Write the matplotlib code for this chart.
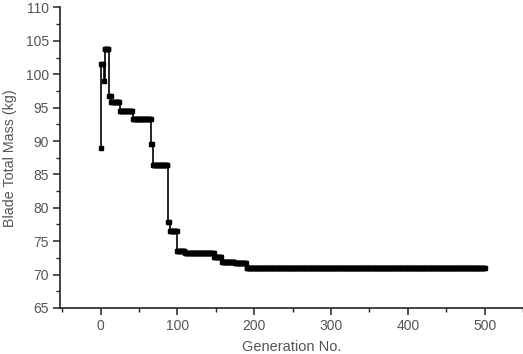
import numpy as np
import matplotlib
matplotlib.use("Agg")
import matplotlib.pyplot as plt

# Change points of the best-so-far curve (generation, mass kg)
change_gens = [0, 1, 4, 5, 11, 14, 25, 42, 66, 68, 88, 90, 100, 110, 148, 158, 175, 190]
change_vals = [88.9, 101.6, 99.0, 103.8, 96.7, 95.8, 94.5, 93.3, 89.5, 86.4, 77.9, 76.5, 73.5, 73.2, 72.7, 71.9, 71.7, 71.0]
last_gen = 500

x_ticks = [0, 100, 200, 300, 400, 500]
y_ticks = [65, 70, 75, 80, 85, 90, 95, 100, 105, 110]

gens = np.arange(0, last_gen + 1)
idx = np.searchsorted(change_gens, gens, side="right") - 1
vals = np.array(change_vals)[idx]

plt.rcParams['font.family'] = ['Liberation Sans', 'DejaVu Sans']
fig = plt.figure(figsize=(5.23, 3.54), dpi=100)
ax = fig.add_axes([0.1147, 0.130, 0.8853, 0.849])

ax.plot(gens, vals, drawstyle='steps-post', color='black', lw=1.2,
        marker='s', markersize=3.0, markevery=1)

ax.set_xlim(-53, 535)
ax.set_ylim(65, 110)
ax.set_xticks(x_ticks)
ax.set_yticks(y_ticks)
ax.set_xticks(np.arange(-50, 551, 50), minor=True)
ax.set_yticks(np.arange(65, 110.1, 2.5), minor=True)
for s in ['top', 'right']:
    ax.spines[s].set_visible(False)
for s in ['left', 'bottom']:
    ax.spines[s].set_linewidth(1.2)
    ax.spines[s].set_color('#222222')
ax.tick_params(which='major', direction='out', length=5, width=1.1, colors='#222222',
               labelcolor='#555555', labelsize=10, pad=3)
ax.tick_params(which='minor', direction='out', length=3, width=1.0, colors='#222222')
ax.set_xlabel('Generation No.', fontsize=10.5, color='#555555', labelpad=5)
ax.set_ylabel('Blade Total Mass (kg)', fontsize=10.3, color='#555555', labelpad=6)

fig.savefig('out.png', dpi=100)
